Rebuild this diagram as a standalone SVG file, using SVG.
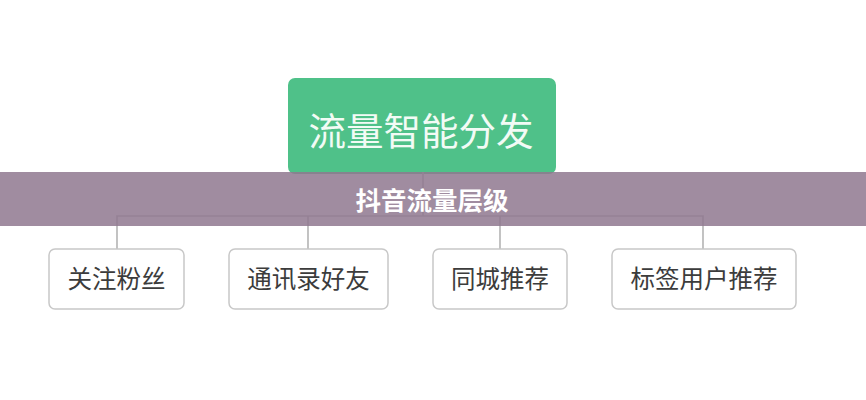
<svg xmlns="http://www.w3.org/2000/svg" width="866" height="400" viewBox="0 0 866 400">
<style>
.cjk{font-family:"Noto Sans CJK SC","Noto Sans",sans-serif;}
.leaf rect{fill:#fff;stroke:#c8c8c8;stroke-width:1.5;}
.leaf text{font-size:24.5px;fill:#3c3c3c;text-anchor:middle;}
.conn{fill:none;stroke:#b4b4b4;stroke-width:1.6;}
</style>
<rect x="0" y="0" width="866" height="400" fill="#ffffff"/>
<g id="root">
<rect x="288" y="78" width="268" height="96" rx="7" fill="#4fc189"/>
<text class="cjk" x="421" y="145" font-size="37.5" fill="#f2fbf5" text-anchor="middle">流量智能分发</text>
</g>
<g id="connectors">
<path class="conn" d="M423 172 V216 M117 249 V216 H703 V249 M308 216 V249 M500 216 V249"/>
</g>
<g id="n1" class="leaf">
<rect x="49" y="249" width="135" height="60" rx="6"/>
<text class="cjk" x="116.5" y="288">关注粉丝</text>
</g>
<g id="n2" class="leaf">
<rect x="229" y="249" width="159" height="60" rx="6"/>
<text class="cjk" x="308.5" y="288">通讯录好友</text>
</g>
<g id="n3" class="leaf">
<rect x="433" y="249" width="134" height="60" rx="6"/>
<text class="cjk" x="500" y="288">同城推荐</text>
</g>
<g id="n4" class="leaf">
<rect x="612" y="249" width="184" height="60" rx="6"/>
<text class="cjk" x="704" y="288">标签用户推荐</text>
</g>
<g id="banner">
<rect x="0" y="172" width="866" height="54" fill="#8f788f" fill-opacity="0.85"/>
<text class="cjk" x="432" y="210" font-size="25.5" font-weight="bold" fill="#ffffff" text-anchor="middle">抖音流量层级</text>
</g>
</svg>
